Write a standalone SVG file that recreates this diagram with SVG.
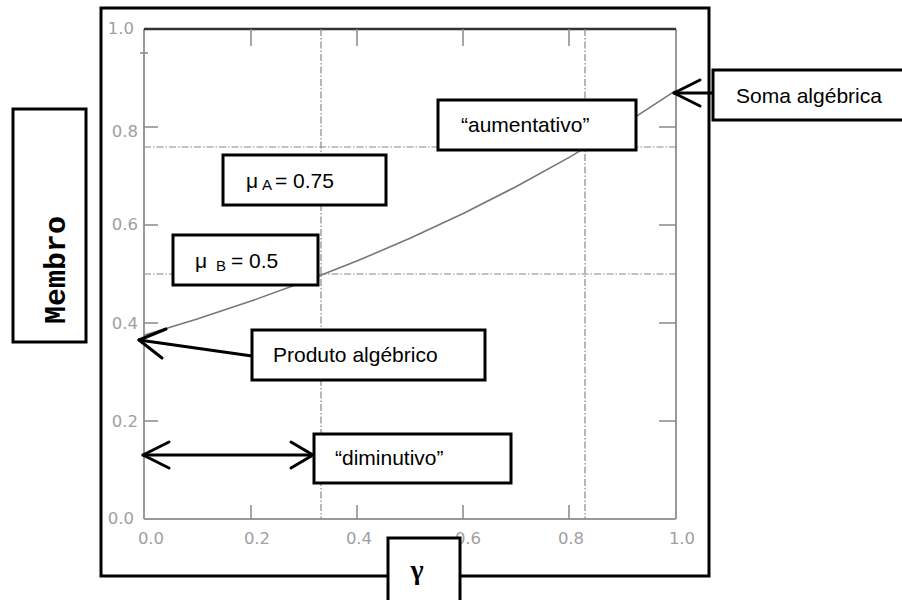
<svg xmlns="http://www.w3.org/2000/svg" width="902" height="600" viewBox="0 0 902 600">
<style>
.box{fill:#fff;stroke:#000;stroke-width:3}
.lbl{font-family:"Liberation Sans",Arial,sans-serif;font-size:21px;fill:#000}
.tk{font-family:"DejaVu Sans",sans-serif;font-size:16.5px;fill:#a0a0a0}
.ax{stroke:#999;stroke-width:2;fill:none}
.tick{stroke:#888;stroke-width:1.5}
.grid{stroke:#888;stroke-width:1.2;stroke-dasharray:7 2 1.5 2;fill:none}
.arr{stroke:#000;stroke-width:3;fill:none;stroke-linecap:round;stroke-linejoin:round}
</style>
<rect width="902" height="600" fill="#fff"/>
<g id="frame"><rect x="101" y="8" width="608" height="568" fill="none" stroke="#000" stroke-width="3"/></g>
<g id="plot">
<line class="ax" x1="144" y1="29" x2="144" y2="519"/>
<line class="ax" x1="676" y1="29" x2="676" y2="519"/>
<line class="ax" x1="144" y1="519" x2="676" y2="519"/>
<line x1="144" y1="29" x2="676" y2="29" stroke="#333" stroke-width="2.5"/>
<g class="tick">
<line x1="251" y1="29" x2="251" y2="46"/><line x1="357" y1="29" x2="357" y2="46"/><line x1="463" y1="29" x2="463" y2="46"/><line x1="569" y1="29" x2="569" y2="46"/>
<line x1="251" y1="519" x2="251" y2="505"/><line x1="357" y1="519" x2="357" y2="505"/><line x1="463" y1="519" x2="463" y2="505"/><line x1="569" y1="519" x2="569" y2="505"/>
<line x1="144" y1="127" x2="158" y2="127"/><line x1="144" y1="225" x2="158" y2="225"/><line x1="144" y1="323" x2="158" y2="323"/><line x1="144" y1="421" x2="158" y2="421"/>
<line x1="676" y1="127" x2="659" y2="127"/><line x1="676" y1="225" x2="659" y2="225"/><line x1="676" y1="323" x2="659" y2="323"/><line x1="676" y1="421" x2="659" y2="421"/>
<line x1="140" y1="53" x2="148" y2="53"/>
</g>
<line class="grid" x1="321" y1="29" x2="321" y2="519"/>
<line class="grid" x1="585" y1="29" x2="585" y2="519"/>
<line class="grid" x1="144" y1="147" x2="676" y2="147"/>
<line class="grid" x1="144" y1="274" x2="676" y2="274"/>
<polyline points="144,335.3 197.2,319 250.4,301.3 303.6,282.1 356.8,261.1 410,238.3 463.2,213.5 516.4,186.5 569.6,157.1 622.8,125.1 676,90.3" fill="none" stroke="#777" stroke-width="1.6"/>
<g class="tk" text-anchor="end">
<text x="134" y="34">1.0</text>
<text x="138" y="137">0.8</text>
<text x="138" y="230">0.6</text>
<text x="138" y="329">0.4</text>
<text x="138" y="427">0.2</text>
<text x="134" y="524">0.0</text>
</g>
<g class="tk" text-anchor="middle">
<text x="151" y="544">0.0</text>
<text x="257" y="544">0.2</text>
<text x="359" y="544">0.4</text>
<text x="468" y="544">0.6</text>
<text x="571" y="544">0.8</text>
<text x="682" y="544">1.0</text>
</g>
</g>
<g id="connectors">
<polyline class="arr" points="713,93 674,93"/>
<polyline class="arr" points="700,80 674,93 700,106"/>
<polyline class="arr" points="252,356 139,340"/>
<polyline class="arr" points="166,329 139,340 162,358"/>
<line class="arr" x1="143" y1="455" x2="313" y2="455"/>
<polyline class="arr" points="169,442 143,455 169,468"/>
<polyline class="arr" points="291,442 313,455 291,468"/>
</g>
<g id="node-membro">
<rect class="box" x="13" y="109" width="73" height="233"/>
<text transform="translate(65,270) rotate(-90)" text-anchor="middle" font-family="'Liberation Mono','Courier New',monospace" font-weight="bold" font-size="30" fill="#000">Membro</text>
</g>
<g id="node-muA">
<rect class="box" x="223" y="155" width="163" height="50"/>
<text class="lbl" y="188"><tspan x="246">μ</tspan><tspan x="262" y="190" font-size="15">A</tspan><tspan x="275" y="188">= 0.75</tspan></text>
</g>
<g id="node-muB">
<rect class="box" x="173" y="235" width="145" height="50"/>
<text class="lbl" y="268"><tspan x="195">μ</tspan><tspan x="216" y="271" font-size="15">B</tspan><tspan x="231" y="268">= 0.5</tspan></text>
</g>
<g id="node-aumentativo">
<rect class="box" x="438" y="100" width="198" height="50"/>
<text class="lbl" x="461" y="132">“aumentativo”</text>
</g>
<g id="node-soma">
<rect class="box" x="713" y="70" width="200" height="50"/>
<text class="lbl" x="736" y="103">Soma algébrica</text>
</g>
<g id="node-produto">
<rect class="box" x="252" y="330" width="233" height="50"/>
<text class="lbl" x="273" y="362">Produto algébrico</text>
</g>
<g id="node-diminutivo">
<rect class="box" x="314" y="434" width="197" height="49"/>
<text class="lbl" x="335" y="465">“diminutivo”</text>
</g>
<g id="node-gamma">
<rect class="box" x="388" y="538" width="72" height="70"/>
<text x="417" y="579" text-anchor="middle" font-family="'Liberation Serif','Times New Roman',serif" font-weight="bold" font-size="28" fill="#000">γ</text>
</g>
</svg>
